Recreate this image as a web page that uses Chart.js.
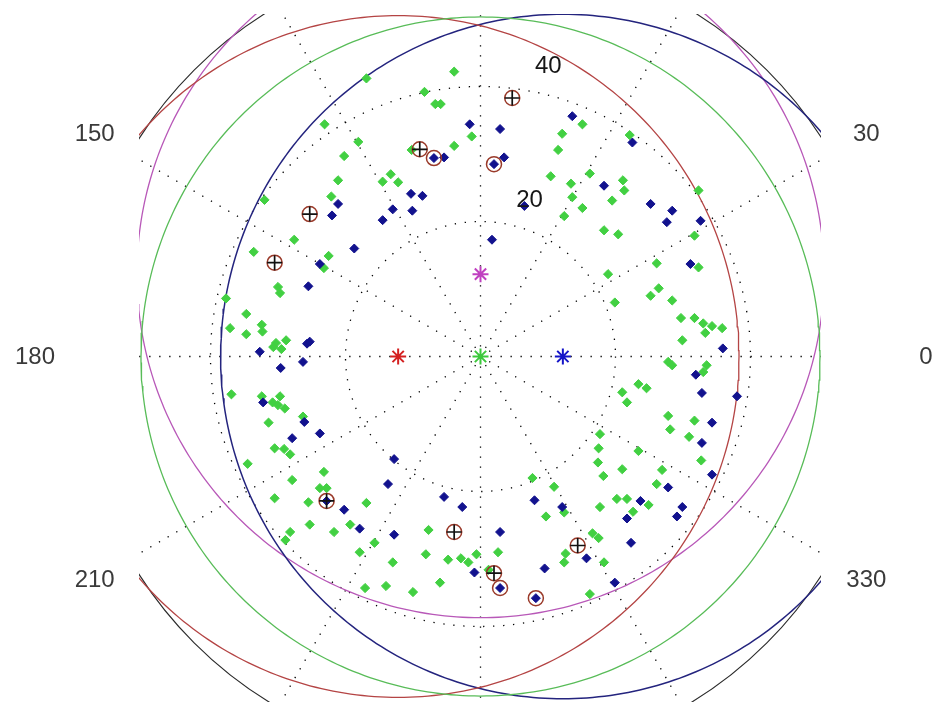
<!DOCTYPE html>
<html>
<head>
<meta charset="utf-8">
<script src="https://cdn.jsdelivr.net/npm/chart.js@4.4.1/dist/chart.umd.min.js"></script>
<style>
  html, body { margin: 0; padding: 0; background: #ffffff; }
  #wrap { width: 932px; height: 702px; }
</style>
</head>
<body>
<div id="wrap"><canvas id="polar" width="932" height="702"></canvas></div>
<script>
// Polar grid definition
const ringValues = [20, 40];
const rMax = 60;
const spokeAngles = [0, 30, 60, 90, 120, 150, 180, 210, 240, 270, 300, 330];

// Class 1 samples (x, y in plot units)
const greenPoints = [
  [-23.1,34.4],[-18.1,31.8],[-20.2,29.7],[-16.9,41.2],[-21.1,26.1],[-22.1,23.7],[-32.0,23.2],[-27.6,17.3],[-33.6,15.5],[-22.5,14.9],
  [-3.9,42.2],[-8.3,39.2],[-6.7,37.4],[-5.9,37.4],[-1.3,32.6],[-3.9,31.2],[-10.2,30.6],[12.1,33.0],[11.5,30.6],[16.2,27.1],
  [10.4,26.7],[13.4,25.6],[13.6,23.6],[15.1,22.0],[12.4,20.8],[-13.3,27.0],[-14.5,25.9],[-12.2,25.8],[15.1,34.4],[22.1,32.8],
  [21.1,26.1],[21.3,24.6],[19.5,23.1],[32.3,24.6],[18.3,18.7],[20.4,18.1],[31.7,17.9],[26.1,13.8],[32.3,13.2],[-23.2,13.1],
  [-30.0,10.3],[-29.7,9.4],[-37.7,8.6],[-34.7,6.3],[-37.1,4.2],[-34.7,3.3],[-32.4,4.7],[-32.3,3.7],[-30.3,2.0],[-28.8,2.4],
  [-29.5,1.1],[-30.7,1.4],[-36.9,-5.6],[-32.4,-5.9],[-30.8,-6.8],[-29.7,-5.9],[-29.0,-7.7],[-30.0,-7.2],[-31.4,-9.8],[-26.3,-8.9],
  [-30.5,-13.6],[-29.1,-13.7],[-28.2,-14.5],[-34.5,-15.9],[-23.2,-17.1],[-27.9,-18.3],[-23.8,-19.5],[-22.8,-19.5],[7.7,-18.0],[10.9,-19.3],
  [18.9,12.2],[26.4,10.1],[25.2,9.0],[28.4,8.3],[19.9,8.0],[29.7,5.7],[31.7,5.7],[33.0,4.9],[34.3,4.5],[35.8,4.2],
  [33.3,3.5],[29.9,2.4],[27.8,-0.8],[28.4,-1.3],[33.5,-1.3],[33.0,-2.3],[23.4,-4.1],[24.6,-4.7],[21.0,-5.3],[21.7,-6.8],
  [27.8,-8.8],[28.1,-10.8],[31.7,-9.5],[30.9,-11.9],[17.7,-11.5],[17.5,-13.6],[23.4,-14.0],[17.4,-15.7],[18.2,-17.7],[21.0,-16.7],
  [26.9,-16.8],[32.7,-15.4],[26.1,-18.9],[-30.5,-21.0],[-25.5,-21.6],[-25.3,-24.9],[-21.7,-26.0],[-19.3,-24.9],[-28.2,-26.0],[-28.9,-27.2],
  [-17.9,-29.0],[-17.1,-34.3],[-16.9,-21.7],[12.4,-23.1],[9.7,-23.7],[-7.7,-25.7],[16.6,-26.2],[12.6,-29.2],[-15.7,-27.6],[-8.1,-29.3],
  [-13.0,-30.5],[-4.8,-30.1],[-2.9,-29.9],[-1.8,-30.5],[-0.6,-29.3],[2.6,-29.0],[12.4,-30.5],[1.2,-31.6],[-6.0,-33.5],[-14.0,-34.0],
  [-10.0,-34.9],[16.2,-35.2],[20.2,-21.1],[21.7,-21.1],[24.9,-22.0],[17.7,-22.3],[22.6,-23.0],[17.5,-26.9],[18.3,-30.5]
];

// Class 2 samples
const bluePoints = [
  [-21.1,22.6],[-22.0,20.9],[-18.7,16.0],[-23.8,13.7],[13.6,35.6],[-1.6,34.4],[2.9,33.7],[-6.9,29.4],[-5.4,29.5],[2.0,28.5],
  [3.5,29.5],[-10.3,24.1],[-8.6,23.8],[-13.0,21.8],[-10.1,21.6],[-14.5,20.2],[6.5,22.3],[1.7,17.3],[22.5,31.7],[18.3,25.3],
  [25.2,22.6],[28.4,21.6],[27.6,19.9],[32.6,20.1],[31.1,13.7],[-25.5,10.4],[-25.7,1.9],[-25.3,2.2],[-32.7,0.7],[-26.3,-0.8],
  [-29.6,-1.7],[-32.2,-6.8],[-26.1,-9.7],[-27.9,-12.1],[-23.8,-11.4],[-12.8,-15.2],[-13.7,-18.9],[35.9,1.2],[31.9,-2.7],[32.8,-5.4],
  [38.0,-5.9],[34.3,-9.8],[32.8,-12.8],[34.3,-17.5],[27.8,-19.4],[-20.2,-22.7],[-17.9,-25.5],[-22.8,-21.4],[-5.4,-20.8],[-2.7,-22.3],
  [8.0,-21.3],[12.1,-22.3],[-12.8,-26.4],[2.9,-26.0],[15.7,-29.9],[9.5,-31.4],[-0.9,-32.0],[2.9,-34.3],[8.2,-35.8],[23.7,-21.4],
  [29.9,-22.3],[29.1,-23.7],[21.7,-24.0],[22.3,-27.6],[19.9,-33.5]
];

// Highlighted samples: ringed ones and the ones also marked with a cross
const ringedPoints = [
  [4.7,38.3],[-9.0,30.7],[-6.9,29.4],[2.0,28.5],[-25.3,21.1],[-30.5,13.9],
  [-22.8,-21.4],[-3.9,-26.0],[14.4,-28.0],[2.0,-32.1],[2.9,-34.3],[8.2,-35.8]
];
const crossedPoints = [
  [4.7,38.3],[-9.0,30.7],[-25.3,21.1],[-30.5,13.9],
  [-22.8,-21.4],[-3.9,-26.0],[14.4,-28.0],[2.0,-32.1]
];

// Centres (stars) and the circles drawn around them
const centreNames  = ['green', 'red', 'blue', 'magenta'];
const centreX      = [0, -12.2, 12.2, 0];
const centreY      = [0, 0, 0, 12.2];
const circleRadius = [50.3, 50.5, 50.7, 50.9];

const starColors   = { green: '#3cc83c', red: '#d42020', blue: '#1414c8', magenta: '#c040c0' };
const circleColors = { green: '#58bc58', red: '#b44444', blue: '#24247e', magenta: '#b858b8' };

const toXY = arr => arr.map(([x, y]) => ({ x, y }));

function circlePath(cx, cy, r) {
  const pts = [];
  for (let d = 0; d <= 360; d += 1) {
    const t = d * Math.PI / 180;
    pts.push({ x: cx + r * Math.cos(t), y: cy + r * Math.sin(t) });
  }
  return pts;
}

// Dotted rings and spokes, solid outer ring, angle and radius labels
const polarGrid = {
  id: 'polarGrid',
  beforeDatasetsDraw(chart) {
    const { ctx, chartArea: a, scales: { x, y } } = chart;
    const cx = x.getPixelForValue(0), cy = y.getPixelForValue(0);
    const k = x.getPixelForValue(1) - cx;
    ctx.save();
    ctx.beginPath();
    ctx.rect(a.left, a.top, a.right - a.left, a.bottom - a.top);
    ctx.clip();
    ctx.strokeStyle = '#000';
    ctx.lineWidth = 1.3;
    ctx.setLineDash([1.3, 8.7]);
    ringValues.forEach(v => {
      ctx.beginPath();
      ctx.arc(cx, cy, v * k, 0, 2 * Math.PI);
      ctx.stroke();
    });
    spokeAngles.forEach(deg => {
      const t = deg * Math.PI / 180;
      ctx.beginPath();
      ctx.moveTo(cx, cy);
      ctx.lineTo(x.getPixelForValue(rMax * Math.cos(t)), y.getPixelForValue(rMax * Math.sin(t)));
      ctx.stroke();
    });
    ctx.setLineDash([]);
    ctx.strokeStyle = '#2a2a2a';
    ctx.lineWidth = 1.1;
    ctx.beginPath();
    ctx.arc(cx, cy, rMax * k, 0, 2 * Math.PI);
    ctx.stroke();
    ctx.restore();
  },
  afterDraw(chart) {
    const { ctx, scales: { x, y } } = chart;
    ctx.save();
    ctx.font = '24px "Liberation Sans", Arial, sans-serif';
    ctx.fillStyle = '#3a3a3a';
    ctx.textAlign = 'center';
    ctx.textBaseline = 'middle';
    spokeAngles.forEach(deg => {
      const t = deg * Math.PI / 180;
      const r = 1.1 * rMax;
      ctx.fillText(String(deg), x.getPixelForValue(r * Math.cos(t)), y.getPixelForValue(r * Math.sin(t)) + 1);
    });
    ctx.fillStyle = '#161616';
    ctx.textAlign = 'left';
    ctx.textBaseline = 'alphabetic';
    const t82 = 82 * Math.PI / 180;
    ringValues.forEach(v => {
      const r = v + 1;
      ctx.fillText(String(v), x.getPixelForValue(r * Math.cos(t82)) + 16, y.getPixelForValue(r * Math.sin(t82)) - 9);
    });
    ctx.restore();
  }
};

const datasets = [];

centreNames.forEach((name, i) => {
  datasets.push({
    label: name + ' circle',
    data: circlePath(centreX[i], centreY[i], circleRadius[i]),
    showLine: true,
    borderColor: circleColors[name],
    borderWidth: name === 'blue' ? 1.5 : 1.3,
    pointRadius: 0,
    fill: false,
    tension: 0,
    clip: 0,
    order: 10
  });
});

datasets.push({
  label: 'class 1',
  data: toXY(greenPoints),
  pointStyle: 'rectRot',
  pointRadius: 4.6,
  backgroundColor: '#42d042',
  borderColor: '#42d042',
  borderWidth: 1,
  order: 6
});

datasets.push({
  label: 'class 2',
  data: toXY(bluePoints),
  pointStyle: 'rectRot',
  pointRadius: 4.5,
  backgroundColor: '#12128e',
  borderColor: '#12128e',
  borderWidth: 1,
  order: 5
});

centreNames.forEach((name, i) => {
  datasets.push({
    label: name + ' centre',
    data: [{ x: centreX[i], y: centreY[i] }],
    pointStyle: 'star',
    pointRadius: 8,
    borderColor: starColors[name],
    backgroundColor: starColors[name],
    borderWidth: 2,
    order: 4
  });
});

datasets.push({
  label: 'ringed',
  data: toXY(ringedPoints),
  pointStyle: 'circle',
  pointRadius: 7.5,
  backgroundColor: 'rgba(0,0,0,0)',
  borderColor: '#9a3a2a',
  borderWidth: 1.5,
  order: 2
});

datasets.push({
  label: 'crossed',
  data: toXY(crossedPoints),
  pointStyle: 'cross',
  pointRadius: 7.5,
  borderColor: '#111111',
  borderWidth: 1.7,
  order: 1
});

new Chart(document.getElementById('polar'), {
  type: 'scatter',
  data: { datasets },
  options: {
    responsive: false,
    devicePixelRatio: 1,
    animation: false,
    events: [],
    layout: { autoPadding: false, padding: { left: 139, right: 111, top: 14, bottom: 0 } },
    plugins: { legend: { display: false }, tooltip: { enabled: false } },
    scales: {
      x: { type: 'linear', display: false, min: -341.5 / 6.75, max: 340.5 / 6.75 },
      y: { type: 'linear', display: false, min: -345.5 / 6.75, max: 342.5 / 6.75 }
    }
  },
  plugins: [polarGrid]
});
</script>
</body>
</html>
